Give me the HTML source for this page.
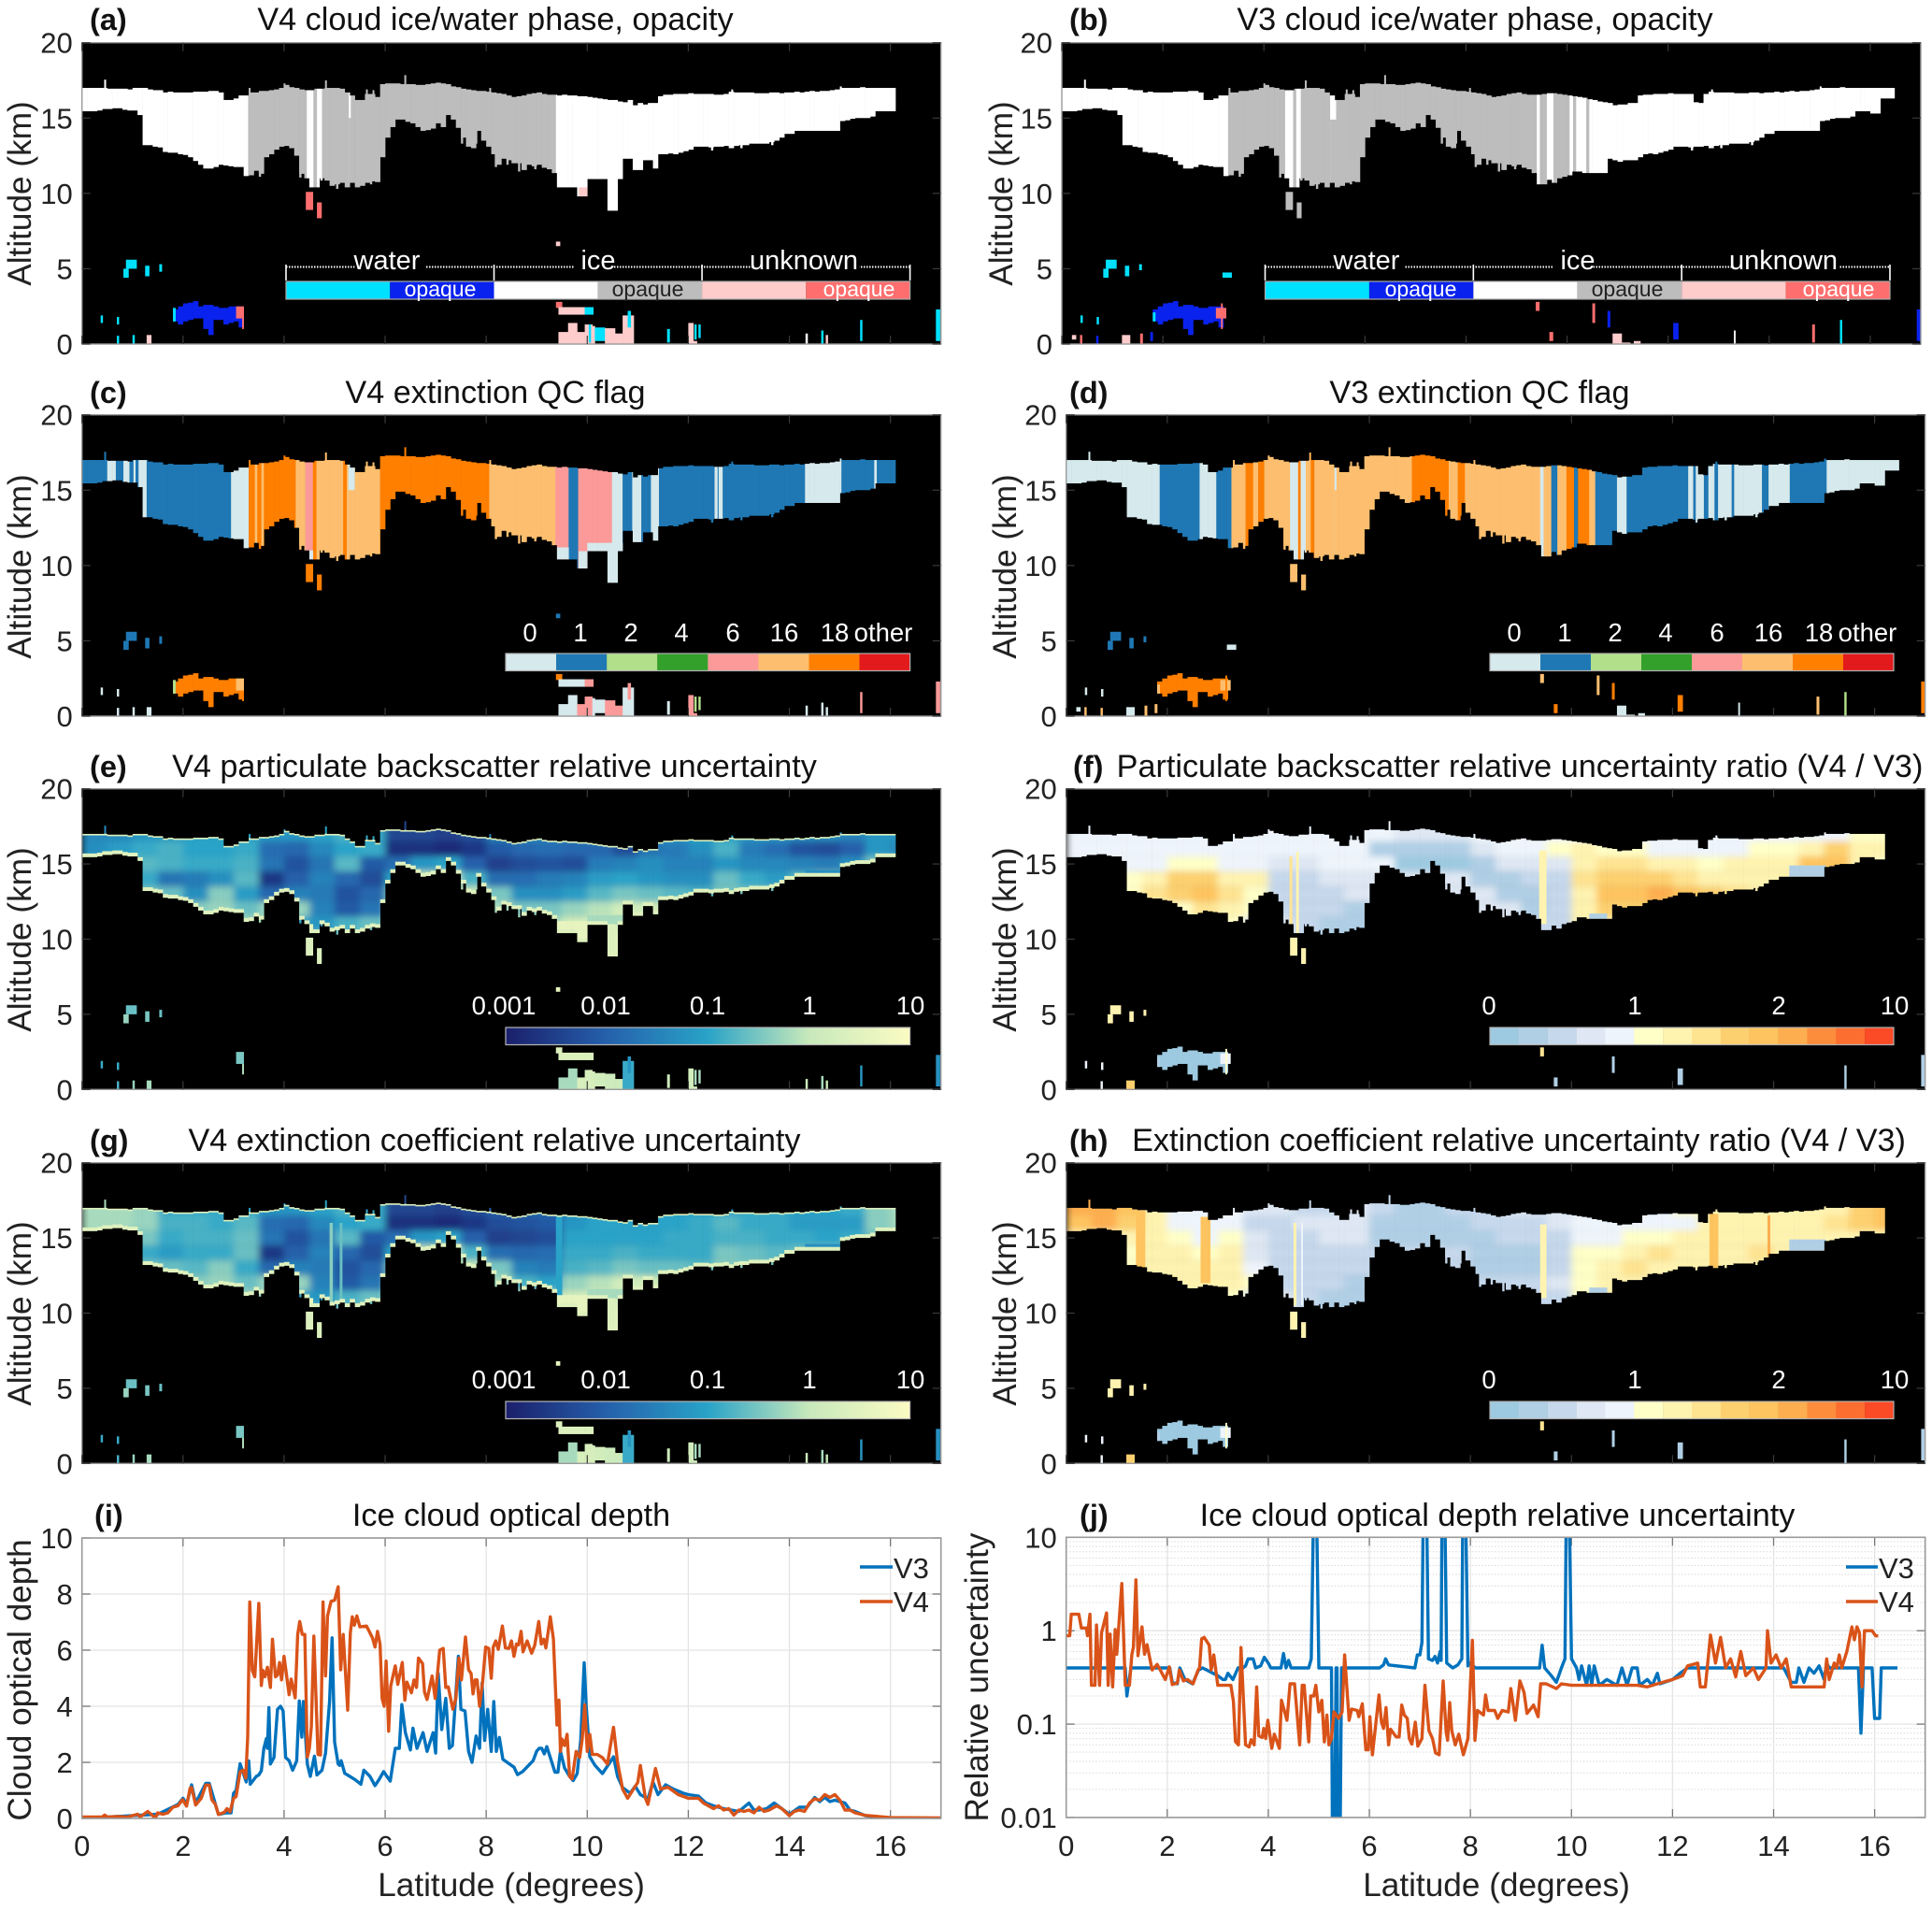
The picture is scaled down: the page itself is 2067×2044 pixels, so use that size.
<!DOCTYPE html>
<html lang="en">
<head>
<meta charset="utf-8">
<title>CALIOP V3 and V4 cloud retrievals along latitude</title>
<style>
html,body{margin:0;padding:0;background:#fff;}
svg{display:block;font-family:"Liberation Sans",Arial,sans-serif;}
.title{font-size:34.2px;text-anchor:middle;fill:#111;}
.tag{font-size:32.5px;font-weight:bold;fill:#111;}
.axis-label{font-size:35.2px;text-anchor:middle;fill:#222;}
.tick{font-size:31px;fill:#222;}
.cb{font-size:27.5px;fill:#fff;text-anchor:middle;}
.op{font-size:23px;text-anchor:middle;}
.lg{font-size:31px;fill:#222;}
</style>
</head>
<body>
<svg id="chart" xmlns="http://www.w3.org/2000/svg" width="2067" height="2044" viewBox="0 0 2067 2044">
<defs>
<filter id="soft" x="-5%" y="-5%" width="110%" height="110%"><feGaussianBlur stdDeviation="4 3.5"/></filter>
<linearGradient id="ylgnbu" x1="0" x2="1" y1="0" y2="0">
<stop offset="0" stop-color="#1b1f6b"/><stop offset="0.25" stop-color="#2560ab"/><stop offset="0.5" stop-color="#29a3c8"/><stop offset="0.75" stop-color="#c8e9bb"/><stop offset="1" stop-color="#fbfbc2"/>
</linearGradient>
</defs>
<rect x="0" y="0" width="2067" height="2044" fill="#fff"/>
<g id="marks"></g>

<text class="tag" x="96" y="32">(a)</text>
<text class="title" x="530" y="32">V4 cloud ice/water phase, opacity</text>
<text class="tag" x="1144" y="32">(b)</text>
<text class="title" x="1578" y="32">V3 cloud ice/water phase, opacity</text>
<text class="tag" x="96" y="431">(c)</text>
<text class="title" x="530" y="431">V4 extinction QC flag</text>
<text class="tag" x="1144" y="431">(d)</text>
<text class="title" x="1583" y="431">V3 extinction QC flag</text>
<text class="tag" x="96" y="831">(e)</text>
<text class="title" x="529" y="831">V4 particulate backscatter relative uncertainty</text>
<text class="tag" x="1148" y="831">(f)</text>
<text class="title" x="1626" y="831">Particulate backscatter relative uncertainty ratio (V4 / V3)</text>
<text class="tag" x="96" y="1231">(g)</text>
<text class="title" x="529" y="1231">V4 extinction coefficient relative uncertainty</text>
<text class="tag" x="1144" y="1231">(h)</text>
<text class="title" x="1625" y="1231">Extinction coefficient relative uncertainty ratio (V4 / V3)</text>
<text class="tag" x="101" y="1632">(i)</text>
<text class="title" x="547" y="1632">Ice cloud optical depth</text>
<text class="tag" x="1155" y="1632">(j)</text>
<text class="title" x="1602" y="1632">Ice cloud optical depth relative uncertainty</text>

<text class="axis-label" transform="translate(33,207) rotate(-90)">Altitude (km)</text>
<text class="axis-label" transform="translate(1083,207) rotate(-90)">Altitude (km)</text>
<text class="axis-label" transform="translate(33,606) rotate(-90)">Altitude (km)</text>
<text class="axis-label" transform="translate(1087,606) rotate(-90)">Altitude (km)</text>
<text class="axis-label" transform="translate(33,1005) rotate(-90)">Altitude (km)</text>
<text class="axis-label" transform="translate(1087,1005) rotate(-90)">Altitude (km)</text>
<text class="axis-label" transform="translate(33,1405) rotate(-90)">Altitude (km)</text>
<text class="axis-label" transform="translate(1087,1405) rotate(-90)">Altitude (km)</text>
<text class="axis-label" transform="translate(33,1797) rotate(-90)">Cloud optical depth</text>
<text class="axis-label" transform="translate(1057,1794) rotate(-90)">Relative uncertainty</text>
<text class="axis-label" x="547" y="2028">Latitude (degrees)</text>
<text class="axis-label" x="1601" y="2028">Latitude (degrees)</text>

<g id="phaseLegA"></g>
<g id="phaseLegB"></g>
<text class="cb" x="414" y="288" style="font-size:29px">water</text>
<text class="cb" x="640" y="288" style="font-size:29px">ice</text>
<text class="cb" x="860" y="288" style="font-size:29px">unknown</text>
<text class="op" x="471" y="317" fill="#fff">opaque</text>
<text class="op" x="693" y="317" fill="#222">opaque</text>
<text class="op" x="919" y="317" fill="#fff">opaque</text>
<text class="cb" x="1462" y="288" style="font-size:29px">water</text>
<text class="cb" x="1688" y="288" style="font-size:29px">ice</text>
<text class="cb" x="1908" y="288" style="font-size:29px">unknown</text>
<text class="op" x="1520" y="317" fill="#fff">opaque</text>
<text class="op" x="1741" y="317" fill="#222">opaque</text>
<text class="op" x="1967" y="317" fill="#fff">opaque</text>

<g class="cbg">
<text class="cb" x="567" y="686">0</text><text class="cb" x="621" y="686">1</text><text class="cb" x="675" y="686">2</text><text class="cb" x="729" y="686">4</text><text class="cb" x="784" y="686">6</text><text class="cb" x="839" y="686">16</text><text class="cb" x="893" y="686">18</text><text class="cb" x="945" y="686">other</text>
</g>
<g>
<text class="cb" x="1620" y="686">0</text><text class="cb" x="1674" y="686">1</text><text class="cb" x="1728" y="686">2</text><text class="cb" x="1782" y="686">4</text><text class="cb" x="1837" y="686">6</text><text class="cb" x="1892" y="686">16</text><text class="cb" x="1946" y="686">18</text><text class="cb" x="1998" y="686">other</text>
</g>
<g>
<text class="cb" x="539" y="1085">0.001</text><text class="cb" x="648" y="1085">0.01</text><text class="cb" x="757" y="1085">0.1</text><text class="cb" x="866" y="1085">1</text><text class="cb" x="974" y="1085">10</text>
</g>
<g>
<text class="cb" x="539" y="1485">0.001</text><text class="cb" x="648" y="1485">0.01</text><text class="cb" x="757" y="1485">0.1</text><text class="cb" x="866" y="1485">1</text><text class="cb" x="974" y="1485">10</text>
</g>
<g>
<text class="cb" x="1593" y="1085">0</text><text class="cb" x="1749" y="1085">1</text><text class="cb" x="1903" y="1085">2</text><text class="cb" x="2027" y="1085">10</text>
</g>
<g>
<text class="cb" x="1593" y="1485">0</text><text class="cb" x="1749" y="1485">1</text><text class="cb" x="1903" y="1485">2</text><text class="cb" x="2027" y="1485">10</text>
</g>
<rect x="541" y="1099" width="432.6" height="18.5" fill="url(#ylgnbu)" stroke="#b5b5b5" stroke-width="1.2"/>
<rect x="541" y="1499" width="432.6" height="18.5" fill="url(#ylgnbu)" stroke="#b5b5b5" stroke-width="1.2"/>

<text class="lg" x="956" y="1688">V3</text>
<text class="lg" x="956" y="1724">V4</text>
<text class="lg" x="2010" y="1688">V3</text>
<text class="lg" x="2010" y="1724">V4</text>
<line x1="920" x2="955" y1="1676" y2="1676" stroke="#0072bd" stroke-width="3.6"/>
<line x1="920" x2="955" y1="1713" y2="1713" stroke="#d95319" stroke-width="3.6"/>
<line x1="1975" x2="2009" y1="1676" y2="1676" stroke="#0072bd" stroke-width="3.6"/>
<line x1="1975" x2="2009" y1="1713" y2="1713" stroke="#d95319" stroke-width="3.6"/>
</svg>

<script>
// ---------- cloud envelope (one entry per 0.1 degree of latitude, km) ----------
const cloudTopV4=[17,17,17,17,17,16.95,16.95,16.95,16.95,16.9,17,17,17,16.9,16.85,16.85,16.7,16.75,16.7,16.7,16.7,16.7,16.75,16.75,16.75,16.8,16.8,16.7,16.2,16.2,16.3,16.5,16.5,16.7,16.7,16.8,16.8,16.85,16.9,17,17.2,17.05,17,16.9,16.85,16.85,16.95,16.95,17,17,17,16.95,16.7,16.5,16.2,16.2,16.6,16.6,16.4,17.25,17.3,17.3,17.3,17.25,17.25,17.25,17.2,17.2,17.25,17.3,17.35,17.3,17.25,17.1,17.05,16.95,16.9,16.85,16.8,16.8,16.75,16.7,16.65,16.6,16.5,16.4,16.45,16.5,16.6,16.65,16.7,16.6,16.55,16.55,16.5,16.55,16.5,16.5,16.45,16.45,16.4,16.35,16.3,16.25,16.2,16.2,16.1,16.05,16.2,15.85,16,15.9,16,16,16.45,16.55,16.55,16.6,16.6,16.6,16.65,16.6,16.6,16.6,16.6,16.55,16.55,16.6,16.75,16.7,16.7,16.7,16.7,16.65,16.65,16.65,16.7,16.7,16.65,16.7,16.7,16.75,16.7,16.75,16.8,16.75,16.8,16.8,16.85,16.9,17,17,17,17,17.05,17,17,17,17,17,17];
const cloudBaseV4=[15.45,15.45,15.45,15.5,15.6,15.6,15.65,15.65,15.55,15.5,15.5,15.2,13.2,13.2,13.1,13.05,12.75,12.7,12.7,12.6,12.55,12.4,12.15,11.9,11.65,11.65,11.75,11.9,11.85,11.8,11.75,11.75,11.15,11.2,11.5,11.3,12.4,12.6,12.9,13.1,13.15,13,12.5,11.3,11,10.4,10.4,11,10.85,10.5,10.6,10.7,10.4,10.7,10.4,10.5,10.7,10.8,10.75,12.4,13.7,14.4,14.9,14.9,14.75,14.65,14.4,14.15,14.2,14.3,14.65,14.4,15.2,14.9,14.35,13.7,13.1,13,14.15,13.5,13.1,12.6,11.9,12.3,12.2,12,12,11.55,11.9,11.8,11.9,11.7,11.6,11.35,10.4,10.4,10.4,10.4,9.8,9.8,10.95,10.95,10.95,10.95,8.85,8.85,10.95,12.3,12.3,11.55,11.55,12.2,12.2,11.65,12.6,12.6,12.65,12.6,12.7,12.8,12.9,13.1,13.1,13.1,13.05,13.1,13.1,13.15,13,13.15,13.2,13.2,13.3,13.3,13.3,13.3,13.4,13.5,13.7,13.95,13.95,14.15,14.15,14.15,14.15,14.15,14.15,14.15,14.15,14.15,14.8,14.85,14.95,15,15,15,15.1,15.45,15.45,15.45,15.45];
const cloudTopV3=[17,17,17,17,17,16.95,16.95,16.95,16.95,16.9,17,17,17,16.9,16.85,16.85,16.7,16.75,16.7,16.7,16.7,16.7,16.75,16.75,16.75,16.8,16.8,16.7,16.2,16.2,16.3,16.5,16.5,16.7,16.7,16.8,16.8,16.85,16.9,17,17.2,17.05,17,16.9,16.85,16.85,16.95,16.95,17,17,17,16.95,16.7,16.5,16.2,16.2,16.6,16.6,16.4,17.25,17.3,17.3,17.3,17.25,17.25,17.25,17.2,17.2,17.25,17.3,17.35,17.3,17.25,17.1,17.05,16.95,16.9,16.85,16.8,16.8,16.75,16.7,16.65,16.6,16.5,16.4,16.45,16.5,16.6,16.65,16.7,16.6,16.55,16.55,16.55,16.6,16.65,16.65,16.6,16.55,16.5,16.45,16.4,16.35,16.25,16.2,16.1,16.05,16,15.85,15.9,15.9,16,16,16.5,16.55,16.55,16.6,16.6,16.6,16.65,16.6,16.6,16.6,16.6,16.05,16,16.6,16.75,16.7,16.7,16.7,16.7,16.65,16.65,16.65,16.7,16.7,16.65,16.7,16.7,16.75,16.7,16.75,16.8,16.75,16.8,16.8,16.85,16.9,17,17,17,17,17.05,17,17,17,17,17,17,17,17,17,17];
const cloudBaseV3=[15.45,15.45,15.45,15.5,15.6,15.6,15.65,15.65,15.55,15.5,15.5,15.2,13.2,13.2,13.1,13.05,12.75,12.7,12.7,12.6,12.55,12.4,12.15,11.9,11.65,11.65,11.75,11.9,11.85,11.8,11.75,11.75,11.15,11.2,11.5,11.3,12.4,12.6,12.9,13.1,13.15,13,12.5,11.3,11,10.4,10.4,11,10.85,10.5,10.6,10.7,10.4,10.7,10.4,10.5,10.7,10.8,10.75,12.4,13.7,14.4,14.9,14.9,14.75,14.65,14.4,14.15,14.2,14.3,14.65,14.4,15.2,14.9,14.35,13.7,13.1,13,14.15,13.5,13.1,12.6,11.9,12.3,12.2,12,12,11.55,11.9,11.8,11.9,11.7,11.6,11.35,10.6,10.6,10.9,10.7,11,11.1,11.2,11.45,11.45,11.35,11.35,11.35,11.35,11.35,12.3,12.2,12.1,12.2,12.2,12.2,12.4,12.6,12.65,12.6,12.7,12.8,12.9,13.1,13.1,13.1,13.05,13.1,13.1,13.15,13,13.15,13.2,13.2,13.3,13.3,13.3,13.3,13.4,13.5,13.7,13.95,13.95,14.15,14.15,14.15,14.15,14.15,14.15,14.15,14.15,14.15,14.8,14.85,14.95,15,15,15,15.1,15.45,15.45,15.45,15.3,15.3,16.3,16.3,16.3];
// narrow spikes sticking out above the cloud top: latitude, top altitude
const spikeLat=[0.44,3.3,3.99,4.81,6.38,8.06,5.62,5.75,12.85,15.0];
const spikeTop=[17.55,17.0,17.3,17.5,17.85,17.0,16.9,16.85,16.9,17.1];
// narrow spikes hanging below the cloud base: latitude, lowest altitude
const dripLat=[3.5,4.3,4.72,5.03,5.7,7.5,7.78,8.17,8.4,8.63,8.95,9.3,13.03,13.64,12.45];
const dripAlt=[11.1,11.05,10.85,10.3,10.6,13.3,13.3,11.75,11.9,11.45,11.6,11.35,13.0,13.2,12.85];

// ---------- phase classes ----------
const phaseColors=['#00e1ff','#0a22ee','#ffffff','#bdbdbd','#ffcccc','#ff6e6e'];
const phaseBreaksV4=[0,3.29,4.45,4.58,4.65,4.75,5.28,5.32,9.38];
const phaseClassV4=[2,3,2,3,2,3,2,3,2];
const phasePatchV4=[[5.28,5.32,10,15,3],[9.83,10,9.8,10.4,4]];
const phaseBreaksV3=[0,3.29,4.42,4.58,4.64,4.73,5.31,5.43,9.4,9.46,9.6,9.73,10.05,10.12,10.18,10.38,10.44];
const phaseClassV3=[2,3,2,3,2,3,2,3,2,3,2,3,2,3,2,3,2];
const phasePatchV3=[[5.31,5.43,10,14.9,3]];

// ---------- QC flags ----------
const qcFlagNames=[0,1,2,4,6,16,18,99];
const qcColors=['#d6e9ec','#1f78b4','#b2df8a','#33a02c','#fb9a99','#fdbf6f','#ff7f00','#e31a1c'];
const qcBreaksV4=[0,.5,.67,.82,.94,1.02,1.06,1.12,1.28,2.95,3.3,3.42,3.47,3.55,3.6,4.23,4.42,4.57,4.64,5.17,5.24,5.27,5.4,5.9,8.06,9.37,9.63,9.82,10.49,10.7,10.89,11.07,11.26,11.42,12.52,12.58,12.6,12.68,14.31,15.03,15.68,15.73];
const qcFlagsV4=[1,0,1,0,1,0,1,0,1,0,18,16,18,16,18,16,6,18,16,18,16,0,16,18,16,6,1,6,0,1,0,1,0,1,0,1,0,1,0,1,0,1];
const qcPatchV4=[[9.38,9.63,10.4,11.2,0],[9.83,10,9.8,10.95,0],[10,10.7,10.95,11.5,0],[10.37,10.55,8.85,11.5,0],[5.27,5.4,10,15,16],[4.42,4.57,10.4,11,0]];
const qcBreaksV3=[0,1.85,2.64,2.97,3.27,3.55,3.7,3.8,3.92,4.43,4.59,4.64,4.74,4.84,4.91,5.31,5.35,6.84,7.57,7.75,7.89,9.38,9.45,9.6,9.72,9.9,10.05,10.13,10.35,10.47,10.9,11.09,12.31,12.41,12.46,12.62,12.71,12.83,12.9,13.17,13.22,13.77,13.9,14.32,15.05];
const qcFlagsV3=[0,1,0,1,16,18,16,18,16,0,18,0,16,18,16,0,16,18,16,18,16,0,16,1,16,18,1,18,16,1,0,1,0,1,0,1,0,1,0,1,0,1,0,1,0];
const qcPatchV3=[[5.31,5.35,10,15,16]];

// ---------- low-altitude / detached layers: lat0, lat1, alt0, alt1, phase class, qc flag, uncertainty or ratio ----------
const lowLayersV4=[[.87,1.08,5,5.6,0,1,-.6],[.82,.92,4.4,5,0,1,-.3],[1.25,1.33,4.5,5.2,0,1,-.5],[1.53,1.58,4.8,5.3,0,1,-.6],[.37,.41,1.4,1.9,0,0,-.9],[.69,.73,1.3,1.8,0,0,-.9],[.69,.73,0,.55,0,0,-.8],[1,1.04,0,.6,0,0,-.3],[1.28,1.37,0,.6,4,0,-.2],[1.8,1.85,1.5,2.4,0,2,-.6],[3.05,3.2,1.7,2.5,5,16,-.5],[3.17,3.2,1,1.7,5,18,-.1],[4.43,4.57,8.9,10.1,5,18,.4],[4.65,4.74,8.35,9.4,5,18,.4],[9.38,9.46,6.5,6.8,4,1,.6],[9.38,9.5,2.4,2.8,5,18,.4],[9.43,9.95,1.95,2.45,4,0,.4],[9.95,10.12,1.95,2.45,0,6,.4],[9.43,9.62,0,.8,4,0,-.2],[9.62,9.8,0,1.4,4,0,-.2],[9.8,9.95,0,.8,4,6,.3],[9.95,10.1,0,1.3,4,6,.3],[10.03,10.07,.1,1.3,0,6,.3],[10.1,10.15,0,1.2,4,0,.3],[10.15,10.35,.2,1.1,0,0,.2],[10.35,10.55,0,1.05,4,6,.1],[10.55,10.7,0,.7,4,6,.1],[10.7,10.92,0,1.9,4,0,-.9],[10.8,10.86,1.1,2.2,0,6,-1.2],[11.58,11.63,.1,1,0,0,.1],[12,12.1,0,1.4,4,6,.2],[12.1,12.17,0,.2,4,6,.2],[12.12,12.16,.3,1.3,0,2,-.2],[12.2,12.24,.4,1.3,0,2,-.2],[14.32,14.36,0,.7,2,0,.1],[14.63,14.67,0,.9,0,0,-.2],[14.72,14.76,0,.6,4,0,0],[15.4,15.44,.2,1.6,0,6,-1.2],[16.9,16.98,.2,2.3,0,6,-1.3]];
const lowLayersV3=[[.87,1.08,5,5.6,0,1,6],[.82,.92,4.4,5,0,1,6],[1.25,1.33,4.5,5.2,0,1,6],[1.53,1.58,4.9,5.3,0,1,6],[3.18,3.36,4.4,4.75,0,0,null],[.37,.41,1.4,1.9,0,0,4],[.69,.73,1.3,1.8,0,0,4],[.2,.28,.3,.6,4,0,null],[.36,.4,0,.6,5,16,null],[.68,.72,0,.55,1,16,4],[1.19,1.35,0,.6,4,0,8],[1.55,1.6,0,.7,5,16,null],[1.75,1.8,.2,.8,1,16,null],[1.8,1.85,1.5,2.1,0,16,1],[3.05,3.25,1.7,2.4,5,16,4],[3.15,3.18,1,2.7,5,18,5],[4.43,4.57,8.9,10.1,3,16,6],[4.65,4.74,8.35,9.4,3,16,6],[9.38,9.45,2.2,2.8,5,16,7],[9.65,9.72,.2,.8,5,18,1],[10.5,10.55,1.4,2.7,5,16,null],[10.8,10.85,1.1,2.2,1,18,1],[10.9,11.08,0,.7,4,0,null],[11.08,11.25,0,.1,4,0,null],[11.32,11.45,0,.2,4,0,null],[12.1,12.2,.3,1.4,1,18,1],[13.3,13.33,0,.9,2,0,null],[14.85,14.9,.1,1.3,5,16,null],[15.4,15.44,0,1.6,0,2,1],[16.92,17,.2,2.3,1,18,1]];
// opaque boundary-layer water cloud near 2-3 degrees
const clusterLat=[1.8,1.9,2,2.1,2.2,2.3,2.4,2.5,2.6,2.7,2.8,2.9,3,3.1];
const clusterTop=[2.3,2.5,2.7,2.75,2.85,2.5,2.6,2.6,2.5,2.4,2.4,2.5,2.5,2.5];
const clusterBase=[1.5,1.3,1.5,1.6,1.7,1.7,1,.6,1.6,1.6,1.3,1.4,1.5,1.1];

// ---------- heat-map cells: rows are altitude, columns are latitude every 0.5 degrees ----------
const heatAltitudes=[17,16,15,14,13,12,11,10];
const uncertaintyBackscatter=[
[-1.4,-1.4,-1.2,-1.2,-1,-1,-1,-1.2,-1.2,-1,-.8,-.9,-2.4,-2.4,-2.5,-2.3,-1.5,-1.4,-1.4,-1.4,-1.4,-1.4,-1.2,-1.2,-1,-1,-1.2,-1.2,-1.3,-1.3,-1.5,-1.2,-1.2],
[-1.3,-1.1,-.9,-.8,-1,-1,-.9,-1.8,-1.9,-1.4,-1,-.9,-2.7,-2.7,-2.8,-2.6,-2.1,-1.9,-1.8,-1.9,-1.9,-2.3,-1.7,-1.6,-1.3,-.8,-1.6,-1.8,-2.2,-2.3,-2,-1.2,-1.4],
[-1,-.8,-.7,-.8,-.9,-.9,-.8,-1.7,-2.2,-1.7,-.7,-2.1,-1.8,-1.2,-1,-2,-2.5,-2.3,-2.2,-2.3,-1.6,-1.5,-1.3,-1.5,-1.5,-1.2,-1.4,-1.4,-1.5,-1.6,-1.3,-.5,-.5],
[-.5,-.5,-.9,-1.7,-1.6,-1.3,-.7,-2.6,-2,-1.5,-1.9,-2.3,-1,0,0,-.8,-1.8,-1.8,-1.6,-1.5,-1.1,-1,-1.2,-1.3,-1.3,-.6,-.9,-1.1,-.7,-.5,-.5,-.5,-.5],
[-.5,-.5,-.5,-.6,-1.3,-.4,-1.1,-1.9,-1.5,-1.6,-2.2,-1.9,-.5,0,0,0,-.5,-1.3,-1.3,-1.1,-.7,-.5,-.6,-.7,-.8,-.5,-.5,-.5,-.5,-.5,-.5,-.5,-.5],
[-.5,-.5,-.5,-.5,-.4,-.3,-.6,-.3,-.3,-1.5,-2.1,-1.7,-.3,0,0,0,-.2,-.5,-.5,-.3,-.1,.2,.2,0,0,0,0,0,0,0,0,0,0],
[-.2,-.2,-.2,-.2,-.2,-.2,-.2,-.2,-1,-1.2,-.8,-.6,0,0,0,0,0,0,-.2,.2,.3,.3,.3,0,0,0,0,0,0,0,0,0,0],
[.5,.5,.5,.5,.5,.5,.5,.5,.5,-.5,-.5,-.3,.5,.5,.5,.5,.5,.5,.5,.5,.5,.5,.5,.5,.5,.5,.5,.5,.5,.5,.5,.5,.5]];
const uncertaintyExtinction=[
[-.2,-.2,-.3,-.9,-.9,-.9,-1,-1.2,-1.2,-1,-.8,-.9,-2.4,-2.4,-2.5,-2.3,-2,-1.8,-1.8,-1.5,-1,-1,-1,-1,-1,-1,-.9,-.9,-1,-1,-.9,-.4,-.2],
[-.2,-.2,-.3,-.8,-.8,-.9,-.7,-1.8,-1.9,-1.4,-1,-.9,-2.7,-2.7,-2.8,-2.6,-2.3,-2.2,-2.1,-1.2,-1,-1,-1,-1,-.9,-.7,-.9,-.9,-1.1,-1.1,-1.1,-.4,-.2],
[-.3,-.3,-.5,-.9,-.8,-.8,-.6,-1.7,-2.2,-1.7,-.7,-2.1,-1.8,-1.2,-1,-2,-2.5,-2.4,-2.3,-1,-1,-1,-1,-.9,-.9,-.8,-.8,-.9,-.9,-1,-.9,-.5,-.5],
[-.5,-.5,-.9,-1.1,-.9,-.9,-.6,-2.6,-2,-1.5,-1.9,-2.3,-1,0,0,-.8,-1.8,-1.9,-1.8,-.9,-.9,-.8,-.9,-.9,-.9,-.5,-.6,-.7,-.6,-.5,-.5,-.5,-.5],
[-.5,-.5,-.5,-.6,-.7,-.4,-.9,-1.9,-1.5,-1.6,-2.2,-1.9,-.5,0,0,0,-.5,-1.5,-1.6,-.8,-.7,-.5,-.6,-.6,-.7,-.4,-.4,-.5,-.5,-.5,-.5,-.5,-.5],
[-.5,-.5,-.5,-.5,-.4,-.3,-.6,-.3,-.3,-1.5,-2.1,-1.7,-.3,0,0,0,-.2,-.8,-1,-.3,-.1,.2,.2,0,0,0,0,0,0,0,0,0,0],
[-.2,-.2,-.2,-.2,-.2,-.2,-.2,-.2,-1,-1.2,-.8,-.6,0,0,0,0,0,0,-.2,.2,.3,.3,.3,0,0,0,0,0,0,0,0,0,0],
[.5,.5,.5,.5,.5,.5,.5,.5,.5,-.5,-.5,-.3,.5,.5,.5,.5,.5,.5,.5,.5,.5,.5,.5,.5,.5,.5,.5,.5,.5,.5,.5,.5,.5]];
const ratioColors=['#9ecae1','#b0cfe5','#c6d8ec','#dee7f3','#eef4fb','#ffffc8','#fff3b0','#fee391','#fdd06f','#fec45f','#fdae4f','#fc8d3c','#fc6e2f','#fb4a26'];
const ratioBackscatter=[
[4,4,4,4,4,4,4,4,4,4,4,4,4,3,3,3,4,4,4,4,4,4,4,4,4,4,4,4,4,4,4,5,5],
[4,4,4,4,4,4,4,4,4,4,4,4,1,1,1,1,3,4,4,5,6,5,5,4,4,4,4,5,5,6,8,6,6],
[4,4,4,4,5,5,4,4,3,3,4,4,4,0,0,0,1,3,3,3,6,7,7,6,6,5,6,6,6,9,9,6,5],
[5,5,5,6,8,8,6,6,2,2,3,3,3,3,3,3,1,1,2,2,7,8,8,8,7,6,6,6,6,5,5,5,5],
[5,5,5,7,8,9,7,5,2,2,2,3,3,3,3,3,3,1,1,2,6,9,9,10,9,8,7,6,6,5,5,5,5],
[5,5,5,5,5,7,6,5,2,2,2,1,2,2,3,3,3,3,1,2,6,8,8,8,6,6,5,5,5,5,5,5,5],
[5,5,5,5,5,5,5,3,3,2,1,1,2,3,3,3,3,3,2,2,6,6,6,1,1,5,5,5,5,5,5,5,5],
[5,5,5,5,5,5,5,3,3,2,1,1,2,3,3,3,3,3,2,2,6,6,6,1,1,5,5,5,5,5,5,5,5]];
const ratioExtinction=[
[10,10,9,6,4,4,4,3,3,2,2,3,2,1,1,2,2,3,3,3,3,4,4,4,5,6,6,6,6,6,6,8,9],
[9,10,8,6,4,4,4,2,2,3,3,3,1,1,1,1,2,2,2,3,4,4,4,4,4,6,6,6,6,6,7,8,9],
[6,6,6,6,5,4,5,3,2,2,3,3,1,1,1,1,1,2,2,2,4,4,5,5,6,6,6,6,6,6,6,6,6],
[5,5,5,6,6,5,6,3,2,2,2,2,2,2,2,2,1,1,1,2,5,5,6,7,6,6,6,7,6,6,6,5,5],
[5,5,5,6,6,6,6,4,2,2,2,2,2,2,2,2,1,1,1,2,5,6,7,6,6,6,6,6,7,6,6,5,5],
[5,5,5,5,6,6,6,5,2,2,2,1,2,2,2,2,2,2,2,3,5,6,6,6,5,5,5,5,5,5,5,5,5],
[5,5,5,5,5,5,5,3,3,2,1,1,1,2,2,2,2,2,2,2,5,6,6,1,1,5,5,5,5,5,5,5,5],
[5,5,5,5,5,5,5,3,3,2,1,1,1,2,2,2,2,2,2,2,5,6,6,1,1,5,5,5,5,5,5,5,5]];
const uncertaintyPatchE=[[9.38,10,9.8,11.2,.6],[10,10.7,10.95,11.6,-.2],[10.37,10.55,8.85,11,.4],[4.42,4.57,10.4,11,.6],[14.31,15.03,14.15,14.6,-1.3]];
const uncertaintyPatchG=[[9.38,10,9.8,11.2,.6],[10,10.7,10.95,11.6,-.2],[10.37,10.55,8.85,11,.4],[4.42,4.57,10.4,11,.6],[14.31,15.03,14.15,14.6,-1.3],[9.38,9.5,11.2,16.6,-1],[4.9,4.96,10.6,16,-.4],[5.1,5.15,10.6,16,-.6]];
const ratioPatchF=[[14.31,15.03,14.15,14.9,1],[10.35,10.7,11.35,11.7,1],[9.36,9.5,11,15.9,6],[4.42,4.47,10.2,15.5,7],[4.55,4.6,10.2,15.8,6]];
const ratioPatchH=[[14.31,15.03,14.15,14.9,1],[10.35,10.7,11.35,11.7,1],[9.38,9.5,11,15.9,6],[1.38,1.56,13,16.8,9],[2.66,2.85,12,16.4,9],[12.73,12.9,13,16.6,9],[13.88,13.93,13.3,16.5,10],[4.5,4.55,10.5,16,6],[4.65,4.68,10.5,16,4]];

// ---------- panel i: ice cloud optical depth ----------
const odLatV3=[0,1.5,1.9,2,2.07,2.17,2.25,2.45,2.52,2.7,2.85,2.95,3,3.05,3.13,3.25,3.3,3.33,3.45,3.5,3.55,3.6,3.65,3.67,3.7,3.73,3.8,3.87,3.93,3.98,4.03,4.1,4.17,4.25,4.3,4.35,4.38,4.46,4.52,4.6,4.65,4.75,4.82,4.9,4.95,5,5.07,5.1,5.13,5.2,5.3,5.4,5.52,5.58,5.7,5.8,5.88,5.97,6.1,6.2,6.28,6.33,6.4,6.5,6.55,6.63,6.75,6.83,6.95,7,7.05,7.12,7.2,7.27,7.33,7.4,7.45,7.5,7.58,7.65,7.72,7.8,7.87,7.92,7.97,8.03,8.1,8.15,8.2,8.26,8.33,8.5,8.55,8.62,8.72,8.93,9,9.05,9.1,9.15,9.2,9.3,9.36,9.42,9.47,9.55,9.65,9.72,9.8,9.87,9.94,9.98,10.05,10.15,10.3,10.45,10.52,10.6,10.7,10.85,10.95,11.05,11.2,11.3,11.4,11.55,11.7,11.9,12,12.2,12.35,12.5,12.6,12.7,12.85,13,13.2,13.3,13.4,13.55,13.7,13.85,14,14.2,14.35,14.5,14.6,14.7,14.8,14.9,15.1,15.2,15.3,15.5,15.9,17];
const odV3=[0,.15,.5,.72,.5,1.2,.55,1.25,1.25,.14,.2,.2,.9,1,1.95,1.3,2.05,1.22,1.5,1.55,1.7,2.5,2.85,2.5,3.95,1.94,2.17,3.89,4,3.83,2.17,2.06,1.72,2.05,4.19,2.9,4.17,1.94,1.5,2.22,1.55,1.72,2.33,4.17,6.44,2.72,1.94,1.89,2.06,1.61,1.5,1.39,1.22,1.72,1.5,1.17,1.39,1.67,1.33,2.5,2.5,4.06,3.06,2.44,3.22,2.5,3.06,2.39,3.06,2.33,5.17,3.17,4.28,2.5,2.6,4.44,5.78,3.89,3.83,2.39,2,2.94,2.5,4.83,2.78,3.89,2.39,4.17,2.39,2.89,2.11,1.89,1.83,1.56,1.67,2.06,2.4,2.5,2.5,2.3,2.56,2,1.65,1.65,2.4,1.8,1.5,1.35,1.6,2.8,5.55,4,2.2,1.9,1.6,2,2.2,1.5,1.1,.9,1.15,.85,.7,1.3,.85,1.2,1.05,.9,.85,.8,.55,.45,.4,.35,.3,.25,.55,.3,.3,.35,.55,.35,.15,.4,.4,.75,.6,.75,.6,.65,.55,.3,.25,.1,0,0];
const odLatV4=[0,.4,.45,.5,.7,.9,1,1.1,1.15,1.3,1.4,1.45,1.5,1.6,1.7,1.8,1.9,1.99,2.07,2.14,2.17,2.25,2.36,2.45,2.52,2.57,2.64,2.7,2.82,2.87,2.93,3,3.05,3.13,3.19,3.24,3.28,3.32,3.37,3.42,3.5,3.55,3.58,3.62,3.67,3.73,3.77,3.83,3.87,3.91,3.95,4,4.1,4.14,4.22,4.27,4.31,4.36,4.41,4.46,4.5,4.54,4.59,4.67,4.72,4.77,4.82,4.86,4.93,5,5.07,5.12,5.17,5.26,5.31,5.35,5.39,5.44,5.5,5.63,5.75,5.8,5.85,5.9,5.94,5.98,6.02,6.07,6.11,6.2,6.25,6.34,6.39,6.43,6.52,6.57,6.62,6.66,6.74,6.78,6.83,6.93,6.99,7.08,7.15,7.2,7.25,7.34,7.4,7.46,7.51,7.59,7.65,7.7,7.74,7.78,7.82,7.87,7.93,7.99,8.05,8.1,8.14,8.19,8.24,8.32,8.38,8.45,8.5,8.55,8.6,8.64,8.69,8.73,8.81,8.9,8.96,9.04,9.09,9.14,9.18,9.27,9.33,9.4,9.44,9.47,9.5,9.55,9.6,9.65,9.7,9.78,9.85,9.9,9.95,10,10.05,10.1,10.2,10.3,10.4,10.45,10.52,10.6,10.7,10.8,11,11.05,11.15,11.2,11.35,11.45,11.6,11.8,12,12.2,12.3,12.5,12.6,12.7,12.8,12.9,13,13.1,13.2,13.3,13.4,13.5,13.6,13.75,13.85,14,14.1,14.2,14.3,14.4,14.5,14.6,14.7,14.8,14.9,15,15.1,15.2,15.3,15.5,16,17];
const odV4=[.05,.05,.12,.05,.07,.05,.1,.15,.05,.25,.1,0,.2,.15,.2,.4,.45,.67,.44,1.08,1.1,.48,.72,1.19,1.19,.67,.5,.14,.22,.35,.24,.72,.78,1.67,1.72,1.44,2.9,7.72,5.28,5.05,7.67,4.74,5.28,5.05,5.39,4.67,6.39,5.05,5.11,5.56,4.94,5.78,4.41,4.97,4.3,6.56,7.02,6.56,6.56,2.19,2.5,3.28,6.5,2.28,2.26,7.72,5.08,7.22,7.74,7.78,8.26,5.3,6.56,3.86,6.61,7.19,6.89,7.22,6.83,6.86,6.44,6.11,6.67,6.22,4.28,4,5.61,3.11,4.72,5.44,4.78,5.56,4.22,4.86,4.48,4.94,4.67,5.72,5.52,4.5,4.24,5.08,4.28,6,6.06,4.67,4.69,3.89,4.28,5.72,4.94,6.47,5.3,5.17,4.44,4.94,4.94,4,4.89,6.11,6.06,5,6.11,6.33,6.03,6.86,6.08,6.06,6.33,5.78,6.22,6.19,6.67,5.94,6.33,5.89,6.17,7.02,6.22,6.39,6.08,7.19,6.39,3.33,4.22,2.39,2.83,2.6,3,1.5,1.41,2.39,2.17,2.83,4.05,2.39,3,2.28,2.28,2.17,1.94,2.5,3.25,2,1.05,.72,1.28,1.89,.72,.5,1.78,1.05,1.11,.85,.72,.72,.55,.35,.45,.3,.35,.12,.3,.25,.3,.2,.4,.25,.3,.45,.35,.1,.25,.3,.25,.55,.7,.65,.85,.75,.85,.65,.3,.3,.2,.11,.03,.02];

// ---------- panel j: relative uncertainty ----------
const ruLatV3=[0,1.1,1.17,1.2,1.28,2,2.05,2.1,2.2,2.25,2.35,2.5,2.62,2.7,3,3.1,3.15,3.2,3.3,3.4,3.5,3.55,3.6,3.7,3.75,3.85,3.92,4,4.05,4.25,4.3,4.35,4.4,4.45,4.8,4.85,4.9,4.95,5,5.25,5.27,5.31,5.34,5.36,5.38,5.42,5.45,6.2,6.28,6.32,6.38,6.9,6.95,7,7.04,7.07,7.13,7.17,7.25,7.3,7.35,7.4,7.42,7.44,7.49,7.53,7.65,7.75,7.83,7.85,7.9,7.95,7.98,8.1,9.37,9.42,9.47,9.6,9.7,9.8,9.87,9.9,9.95,10,10.1,10.15,10.2,10.3,10.35,10.4,10.45,10.55,10.7,10.9,11,11.1,11.2,11.3,11.35,11.5,11.6,11.7,11.75,12,12.15,12.3,14.2,14.35,14.45,14.5,14.6,14.7,14.8,14.9,15,15.05,15.1,15.68,15.73,15.78,15.95,16,16.1,16.13,16.45];
const ruV3=[.4,.4,.4,.2,.4,.4,.4,.28,.27,.4,.3,.27,.38,.4,.33,.3,.3,.35,.3,.4,.4,.42,.5,.5,.4,.42,.52,.45,.4,.4,.57,.4,.48,.4,.4,.5,30,30,.4,.4,.005,.005,.4,.4,.005,.005,.4,.4,.43,.5,.43,.4,.55,.55,.75,30,30,.5,.48,.53,.45,.6,.48,30,30,.45,.4,.43,.5,30,30,.42,.45,.4,.4,.7,.4,.33,.28,.4,.5,30,30,.5,.4,.3,.42,.26,.42,.26,.42,.26,.3,.26,.4,.26,.4,.4,.26,.3,.26,.35,.27,.3,.35,.4,.4,.28,.28,.4,.28,.4,.35,.42,.3,.45,.4,.4,.08,.4,.4,.115,.115,.4,.4];
const ruLatV4=[0,.07,.1,.25,.3,.4,.42,.47,.5,.57,.6,.66,.7,.8,.83,.87,.92,.97,1,1.1,1.17,1.25,1.3,1.33,1.38,1.42,1.5,1.55,1.6,1.7,1.8,1.85,1.96,2.04,2.1,2.2,2.24,2.32,2.4,2.51,2.61,2.64,2.68,2.73,2.83,2.87,2.92,3,3.26,3.31,3.35,3.41,3.46,3.55,3.62,3.66,3.72,3.77,3.81,3.88,3.91,3.95,3.99,4.07,4.12,4.22,4.26,4.37,4.43,4.52,4.62,4.67,4.71,4.8,4.84,4.9,4.94,5,5.06,5.11,5.16,5.2,5.25,5.3,5.39,5.46,5.51,5.6,5.65,5.76,5.79,5.86,5.93,5.98,6.01,6.06,6.19,6.24,6.28,6.33,6.38,6.42,6.53,6.59,6.64,6.69,6.75,6.79,6.84,6.91,6.96,7.04,7.1,7.18,7.25,7.31,7.38,7.46,7.52,7.55,7.59,7.63,7.7,7.77,7.86,7.95,8.04,8.09,8.14,8.26,8.3,8.35,8.48,8.54,8.63,8.75,8.8,8.89,8.98,9.06,9.12,9.19,9.25,9.34,9.39,9.46,9.5,9.7,9.8,10,10.5,11,11.3,11.5,11.7,12,12.2,12.3,12.5,12.55,12.65,12.75,12.85,12.95,13.05,13.15,13.25,13.35,13.45,13.6,13.7,13.85,13.88,13.95,14.05,14.15,14.25,14.35,15,15.05,15.1,15.2,15.25,15.3,15.35,15.45,15.55,15.6,15.65,15.7,15.75,15.8,15.95,16.02,16.07];
const ruV4=[.885,.885,1.5,1.5,1.07,1.07,.885,1.5,.26,.26,1.15,.26,.95,1.55,.26,.92,.25,1.03,.56,3.2,.26,.26,.56,.67,3.5,.54,1.1,.56,.71,.38,.435,.39,.3,.41,.265,.275,.38,.29,.3,.27,.38,.4,.82,.85,.7,.38,.55,.26,.26,.175,.065,.06,.66,.06,.057,.068,.06,.25,.075,.072,.09,.07,.11,.055,.078,.055,.18,.11,.27,.27,.06,.26,.26,.0645,.2,.2,.26,.135,.18,.0645,.125,.06,.07,.135,.115,.135,.55,.11,.145,.14,.12,.165,.053,.053,.12,.047,.205,.105,.09,.15,.06,.088,.073,.073,.16,.125,.115,.07,.061,.105,.058,.07,.26,.085,.07,.049,.047,.29,.082,.067,.17,.085,.06,.078,.047,.07,.79,.067,.14,.125,.205,.14,.14,.115,.14,.135,.24,.11,.29,.22,.13,.145,.16,.12,.27,.27,.27,.24,.27,.26,.26,.26,.26,.25,.27,.3,.33,.42,.45,.25,.25,.9,.45,.85,.4,.5,.32,.6,.33,.4,.3,.4,1,.45,.55,.4,.5,.25,.25,.5,.3,.45,.4,.55,.4,.6,1.1,.8,1.1,.95,.25,1,1,.88,.88];

// ---------- tick labels ----------
const altitudeTicks=[0,5,10,15,20];
const latitudeTicks=[0,2,4,6,8,10,12,14,16];
const odTicks=[0,2,4,6,8,10];
const ruTicks=[0.01,0.1,1,10];
const ruMinorMultipliers=[2,3,4,5,6,7,8,9];

const NS='http://www.w3.org/2000/svg';
const root=document.getElementById('marks');
function mk(tag,attrs,parent){
  const e=document.createElementNS(NS,tag);
  for(const k in attrs) e.setAttribute(k,attrs[k]);
  (parent||root).appendChild(e);
  return e;
}
const LATMAX=17,PXW=919;
function panelAxes(p){
  return {x:lat=>p.left+lat*PXW/LATMAX, y:alt=>p.bottom-alt*(p.bottom-p.top)/20};
}
function box(ax,lat0,lat1,a0,a1,fill,parent,name){
  const r=mk('rect',{x:ax.x(lat0),width:Math.max(ax.x(lat1)-ax.x(lat0),1.2)+.3,y:ax.y(a1),height:ax.y(a0)-ax.y(a1),fill:fill},parent);
  
  
  return r;
}
function heatColor(v){
  const stops=[[27,31,107],[37,96,171],[41,163,200],[200,233,187],[251,251,194]];
  const t=Math.max(0,Math.min(.9999,(v+3)/4))*4,i=Math.floor(t),f=t-i,a=stops[i],b=stops[i+1];
  return 'rgb('+a.map((c,k)=>Math.round(c+(b[k]-c)*f)).join(',')+')';
}
function qcColor(flag){return qcColors[qcFlagNames.indexOf(flag)];}

function altitudePanel(p){
  const ax=panelAxes(p);
  const g=mk('g',{});
  
  
  const bg=mk('rect',{x:p.left,y:p.top,width:PXW,height:p.bottom-p.top,fill:'#000'},g);
  
  
  // envelope clip
  const defs=mk('clipPath',{id:'env-'+p.id},g);
  const count=Math.min(p.top_.length,p.base.length);
  for(let i=0;i<count;i++){
    const lat=i*.1; if(lat>=p.end) break;
    mk('rect',{x:ax.x(lat),width:ax.x(Math.min(lat+.1,p.end))-ax.x(lat)+.3,y:ax.y(p.top_[i]),height:ax.y(p.base[i])-ax.y(p.top_[i])},defs);
  }
  spikeLat.forEach((lat,i)=>{
    mk('rect',{x:ax.x(lat),width:2,y:ax.y(spikeTop[i]),height:ax.y(16)-ax.y(spikeTop[i])},defs);
  });
  dripLat.forEach((lat,i)=>{
    mk('rect',{x:ax.x(lat),width:2.4,y:ax.y(dripAlt[i]+1.6),height:ax.y(dripAlt[i])-ax.y(dripAlt[i]+1.6)},defs);
  });
  const layer=mk('g',{'clip-path':'url(#env-'+p.id+')'},g);
  
  
  if(p.kind==='class'){
    p.breaks.forEach((b,i)=>{
      const e=i+1<p.breaks.length?p.breaks[i+1]:17;
      box(ax,b,e,8,18.5,p.color(p.classes[i]),layer,'cloud-segment');
    });
    p.patches.forEach(t=>box(ax,t[0],t[1],t[2],t[3],p.color(t[4]),layer,'cloud-patch'));
  }else{
    const soft=mk('g',{filter:'url(#soft)'},layer);
    p.matrix.forEach((row,r)=>{
      row.forEach((v,c)=>{
        const lat=c*.5,alt=heatAltitudes[r];
        box(ax,lat,lat+.5,alt-.5-(r===heatAltitudes.length-1?2:0),alt+.5+(r===0?1.5:0),p.color(v),soft,'heat-cell');
      });
    });
    p.patches.forEach(t=>box(ax,t[0],t[1],t[2],t[3],p.color(t[4]),layer,'heat-patch'));
    if(p.edge!==undefined){
      for(let i=0;i<count;i++){
        const lat=i*.1; if(lat>=p.end) break;
        box(ax,lat,lat+.1,p.top_[i]-.1,p.top_[i]+.02,p.color(p.edge),layer,'cloud-top-edge');
        box(ax,lat,lat+.1,p.base[i]-.02,p.base[i]+.25,p.color(p.edge),layer,'cloud-base-edge');
      }
    }
  }
  if(p.cluster){
    clusterLat.forEach((lat,i)=>{
      box(ax,lat,lat+.1,clusterBase[i],clusterTop[i],p.cluster,g,'boundary-cluster-column');
    });
  }
  // low layers
  p.low.forEach(t=>{
    const fill=p.lowColor(t);
    if(fill) box(ax,t[0],t[1],t[2],t[3],fill,g,'low-cloud-layer');
  });
  // frame and ticks
  const fr=mk('rect',{x:p.left,y:p.top,width:PXW,height:p.bottom-p.top,fill:'none',stroke:'#9a9a9a','stroke-width':1.4},g);
  
  
  latitudeTicks.forEach(v=>{
    const a=mk('line',{x1:ax.x(v),x2:ax.x(v),y1:p.bottom,y2:p.bottom-9,stroke:'#3a3a3a','stroke-width':1.2},g);
    
    
    const b=mk('line',{x1:ax.x(v),x2:ax.x(v),y1:p.top,y2:p.top+9,stroke:'#3a3a3a','stroke-width':1.2},g);
    
    
  });
  altitudeTicks.forEach(v=>{
    const l=mk('line',{x1:p.left,x2:p.left+9,y1:ax.y(v),y2:ax.y(v),stroke:'#3a3a3a','stroke-width':1.2},g);
    
    
    const r=mk('line',{x1:p.left+PXW-9,x2:p.left+PXW,y1:ax.y(v),y2:ax.y(v),stroke:'#3a3a3a','stroke-width':1.2},g);
    
    
    const t=mk('text',{class:'tick',x:p.left-10,y:ax.y(v)+11,'text-anchor':'end'},g);
    t.textContent=String(v);
    
    
  });
}

const phaseColor=c=>phaseColors[c];
const rc=v=>ratioColors[v];
const COL_L=87.7,COL_R=1140.7;
altitudePanel({id:'a',left:COL_L,top:45.7,bottom:368,top_:cloudTopV4,base:cloudBaseV4,end:16.1,kind:'class',breaks:phaseBreaksV4,classes:phaseClassV4,color:phaseColor,patches:phasePatchV4,low:lowLayersV4,lowColor:t=>phaseColors[t[4]],cluster:phaseColors[1]});
altitudePanel({id:'b',left:1136,top:45.7,bottom:368,top_:cloudTopV3,base:cloudBaseV3,end:16.48,kind:'class',breaks:phaseBreaksV3,classes:phaseClassV3,color:phaseColor,patches:phasePatchV3,low:lowLayersV3,lowColor:t=>phaseColors[t[4]],cluster:phaseColors[1]});
altitudePanel({id:'c',left:COL_L,top:443.7,bottom:766,top_:cloudTopV4,base:cloudBaseV4,end:16.1,kind:'class',breaks:qcBreaksV4,classes:qcFlagsV4,color:qcColor,patches:qcPatchV4,low:lowLayersV4,lowColor:t=>qcColor(t[5]),cluster:qcColor(18)});
altitudePanel({id:'d',left:COL_R,top:443.7,bottom:766,top_:cloudTopV3,base:cloudBaseV3,end:16.48,kind:'class',breaks:qcBreaksV3,classes:qcFlagsV3,color:qcColor,patches:qcPatchV3,low:lowLayersV3,lowColor:t=>qcColor(t[5]),cluster:qcColor(18)});
altitudePanel({id:'e',left:COL_L,top:843.7,bottom:1165.3,top_:cloudTopV4,base:cloudBaseV4,end:16.1,kind:'heat',matrix:uncertaintyBackscatter,color:heatColor,patches:uncertaintyPatchE,edge:.45,low:lowLayersV4,lowColor:t=>(t[0]>1.7&&t[1]<3.05)?null:heatColor(t[6])});
altitudePanel({id:'f',left:COL_R,top:843.7,bottom:1165.3,top_:cloudTopV3,base:cloudBaseV3,end:16.2,kind:'heat',matrix:ratioBackscatter,color:rc,patches:ratioPatchF,low:lowLayersV3,lowColor:t=>t[6]===null?null:ratioColors[t[6]],cluster:ratioColors[0]});
altitudePanel({id:'g',left:COL_L,top:1243.7,bottom:1565.3,top_:cloudTopV4,base:cloudBaseV4,end:16.1,kind:'heat',matrix:uncertaintyExtinction,color:heatColor,patches:uncertaintyPatchG,edge:.45,low:lowLayersV4,lowColor:t=>(t[0]>1.7&&t[1]<3.05)?null:heatColor(t[6])});
altitudePanel({id:'h',left:COL_R,top:1243.7,bottom:1565.3,top_:cloudTopV3,base:cloudBaseV3,end:16.2,kind:'heat',matrix:ratioExtinction,color:rc,patches:ratioPatchH,low:lowLayersV3,lowColor:t=>t[6]===null?null:ratioColors[t[6]],cluster:ratioColors[0]});

// phase legends
function phaseLegend(targetId,x0,x1){
  const g=document.getElementById(targetId);
  const w=(x1-x0)/6;
  phaseColors.forEach((c,i)=>{
    const r=mk('rect',{x:x0+i*w,y:301,width:w,height:19,fill:c},g);
    
    
  });
  const bd=mk('rect',{x:x0,y:301,width:x1-x0,height:19,fill:'none',stroke:'#a9a9a9','stroke-width':1.2},g);
  
  
  for(let i=0;i<=3;i++){
    const xx=x0+i*2*w;
    const t=mk('line',{x1:xx,x2:xx,y1:283,y2:300,stroke:'#fff','stroke-width':1.6},g);
    
    
  }
  const d=mk('line',{x1:x0,x2:x1,y1:285.5,y2:285.5,stroke:'#fff','stroke-width':2,'stroke-dasharray':'1.5 1.5'},g);
  
  
  [[x0+w-38,x0+w+38],[x0+3*w-26,x0+3*w+17],[x0+5*w-57,x0+5*w+57]].forEach(s=>{
    const m=mk('rect',{x:s[0],y:268,width:s[1]-s[0],height:26,fill:'#000'},g);
    
    
  });
}
phaseLegend('phaseLegA',306,973.6);
phaseLegend('phaseLegB',1353.5,2022);

// qc & ratio legends
function swatches(x0,x1,yTop,colors,name){
  const w=(x1-x0)/colors.length;
  colors.forEach((c,i)=>{
    const r=mk('rect',{x:x0+i*w,y:yTop,width:w+.2,height:18.5,fill:c});
    
    
  });
  const b=mk('rect',{x:x0,y:yTop,width:x1-x0,height:18.5,fill:'none',stroke:'#b0b0b0','stroke-width':1.2});
  
  
}
swatches(541,973.6,699,qcColors,'qc-legend-v4');
swatches(1594,2026,699,qcColors,'qc-legend-v3');
swatches(1594,2026,1099,ratioColors,'ratio-legend-f');
swatches(1594,2026,1499,ratioColors,'ratio-legend-h');

// line panels
function linePanel(p){
  const g=mk('g',{});
  
  
  const x=lat=>p.left+lat*PXW/LATMAX;
  const bg=mk('rect',{x:p.left,y:p.top,width:PXW,height:p.bottom-p.top,fill:'#fff'},g);
  
  
  if(p.minor){
    p.minor.forEach(v=>{
      const l=mk('line',{x1:p.left,x2:p.left+PXW,y1:p.y(v),y2:p.y(v),stroke:'#d9d9d9','stroke-width':1,'stroke-dasharray':'1.5 2'},g);
      
      
    });
  }
  latitudeTicks.forEach(v=>{
    const l=mk('line',{x1:x(v),x2:x(v),y1:p.top,y2:p.bottom,stroke:'#e4e4e4','stroke-width':1.3},g);
    
    
    const t=mk('text',{class:'tick',x:x(v),y:1985,'text-anchor':'middle'},g);
    t.textContent=String(v);
    
    
    const a=mk('line',{x1:x(v),x2:x(v),y1:p.bottom,y2:p.bottom-9,stroke:'#777','stroke-width':1.3},g);
    
    
    const b=mk('line',{x1:x(v),x2:x(v),y1:p.top,y2:p.top+9,stroke:'#777','stroke-width':1.3},g);
    
    
  });
  p.ticks.forEach(v=>{
    const l=mk('line',{x1:p.left,x2:p.left+PXW,y1:p.y(v),y2:p.y(v),stroke:'#e4e4e4','stroke-width':1.3},g);
    
    
    const a=mk('line',{x1:p.left,x2:p.left+9,y1:p.y(v),y2:p.y(v),stroke:'#777','stroke-width':1.3},g);
    
    
    const b=mk('line',{x1:p.left+PXW-9,x2:p.left+PXW,y1:p.y(v),y2:p.y(v),stroke:'#777','stroke-width':1.3},g);
    
    
    const t=mk('text',{class:'tick',x:p.left-10,y:p.y(v)+11,'text-anchor':'end'},g);
    t.textContent=String(v);
    
    
  });
  const cp=mk('clipPath',{id:'clip-'+p.id},g);
  mk('rect',{x:p.left,y:p.top,width:PXW,height:p.bottom-p.top},cp);
  const pts=(la,va)=>la.map((l,i)=>x(l).toFixed(1)+','+p.y(va[i]).toFixed(1)).join(' ');
  const v3=mk('polyline',{points:pts(p.latV3,p.v3),fill:'none',stroke:'#0072bd','stroke-width':3.4,'stroke-linejoin':'round','clip-path':'url(#clip-'+p.id+')'},g);
  
  
  const v4=mk('polyline',{points:pts(p.latV4,p.v4),fill:'none',stroke:'#d95319','stroke-width':3.4,'stroke-linejoin':'round','clip-path':'url(#clip-'+p.id+')'},g);
  
  
  const fr=mk('rect',{x:p.left,y:p.top,width:PXW,height:p.bottom-p.top,fill:'none',stroke:'#9a9a9a','stroke-width':1.6},g);
  
  
}
linePanel({id:'i',left:COL_L,top:1645,bottom:1945,y:v=>1945-v*30,ticks:odTicks,latV3:odLatV3,v3:odV3,latV4:odLatV4,v4:odV4});
const ruY=v=>1944-(Math.log10(v)+2)*(1944-1644.3)/3;
const ruMinor=[];
ruTicks.slice(0,3).forEach(d=>ruMinorMultipliers.forEach(m=>ruMinor.push(d*m)));
linePanel({id:'j',left:COL_R,top:1644.3,bottom:1944,y:ruY,ticks:ruTicks,minor:ruMinor,latV3:ruLatV3,v3:ruV3,latV4:ruLatV4,v4:ruV4});
</script>
</body>
</html>
